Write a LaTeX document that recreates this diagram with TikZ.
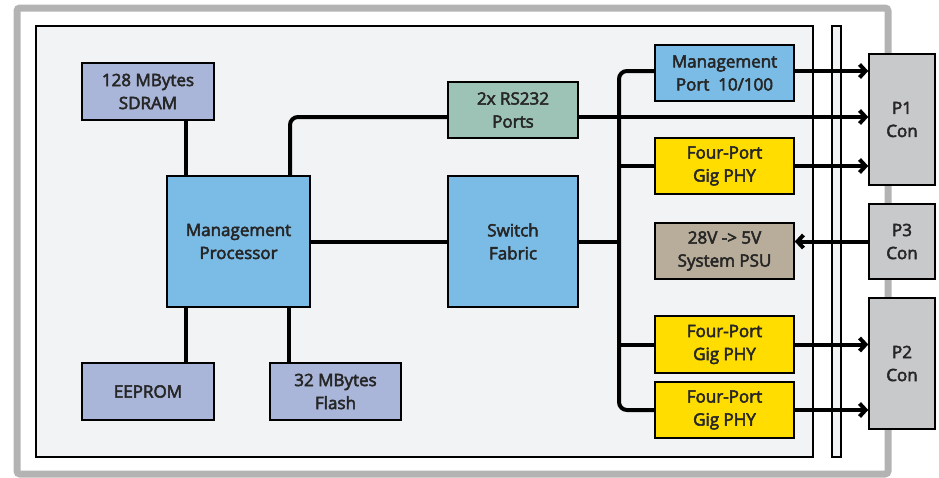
\documentclass[tikz,border=0pt]{standalone}
\usepackage{fontspec}
\setmainfont{Open Sans}[FakeBold=3]
\usetikzlibrary{arrows.meta}
\definecolor{frameg}{HTML}{B3B3B3}
\definecolor{panel}{HTML}{F2F3F5}
\definecolor{bluebox}{HTML}{7BBCE6}
\definecolor{memb}{HTML}{A9B5D9}
\definecolor{rsg}{HTML}{9CC3B6}
\definecolor{yel}{HTML}{FFDD00}
\definecolor{psuc}{HTML}{B8AC9A}
\definecolor{conc}{HTML}{C8C9CB}
\definecolor{txt}{HTML}{262626}
\begin{document}
\begin{tikzpicture}[x=1pt,y=-1pt,
  box/.style={draw=black, line width=1.5pt, align=center, text=txt,
    font=\fontsize{17}{23}\selectfont, inner sep=0pt},
  conn/.style={line width=4pt},
  arr/.style={conn, -{Straight Barb[length=6pt,width=13pt]}}]
\useasboundingbox (0,0) rectangle (939,477);
\draw[line width=7pt, draw=frameg, rounded corners=3pt] (17,8) rectangle (888,474);
\draw[fill=panel, line width=1.5pt] (36,26) rectangle (813,457);
\draw[fill=panel, line width=1.2pt] (832,26) rectangle (841,457);
% boxes
\node[box, fill=memb, minimum width=132pt, minimum height=57pt] (sdram) at (148,91.5) {128 MBytes\\SDRAM};
\node[box, fill=bluebox, minimum width=143pt, minimum height=131pt] (proc) at (238.5,241.5) {Management\\Processor};
\node[box, fill=rsg, minimum width=130pt, minimum height=56pt] (rs) at (513,110) {2x RS232\\Ports};
\node[box, fill=bluebox, minimum width=130pt, minimum height=131pt] (sw) at (513,241.5) {Switch\\Fabric};
\node[box, fill=bluebox, minimum width=139pt, minimum height=56pt] (mp) at (724.5,73) {Management\\Port\ \ 10/100};
\node[box, fill=yel, minimum width=139pt, minimum height=56pt] (phya) at (724.5,166) {Four-Port\\Gig PHY};
\node[box, fill=psuc, minimum width=139pt, minimum height=56pt] (psu) at (724.5,251) {28V -> 5V\\System PSU};
\node[box, fill=yel, minimum width=139pt, minimum height=57pt] (phyb) at (724.5,344.5) {Four-Port\\Gig PHY};
\node[box, fill=yel, minimum width=139pt, minimum height=56pt] (phyc) at (724.5,410) {Four-Port\\Gig PHY};
\node[box, fill=memb, minimum width=132pt, minimum height=57pt] (eeprom) at (148,391.5) {EEPROM};
\node[box, fill=memb, minimum width=131pt, minimum height=57pt] (flash) at (335.5,391.5) {32 MBytes\\Flash};
\node[box, fill=conc, minimum width=66pt, minimum height=131pt] (pa) at (902,119.5) {P1\\Con};
\node[box, fill=conc, minimum width=66pt, minimum height=75pt] (pc) at (902,241.5) {P3\\Con};
\node[box, fill=conc, minimum width=66pt, minimum height=131pt] (pb) at (902,363.5) {P2\\Con};
\coordinate (bj) at (619,241.5);
% connectors
\draw[conn] ([xshift=38pt]sdram.south) -- ([xshift=38pt]sdram.south |- proc.north);
\draw[conn] ([xshift=38pt]eeprom.north) -- ([xshift=38pt]eeprom.north |- proc.south);
\draw[conn] ([xshift=-46.5pt]flash.north) -- ([xshift=-46.5pt]flash.north |- proc.south);
\draw[conn, rounded corners=8pt] ([xshift=51.5pt]proc.north) |- ([yshift=-7pt]rs.west);
\draw[conn] (proc.east) -- (sw.west);
\draw[conn] (sw.east) -- (bj);
\draw[conn, rounded corners=8pt] ([yshift=2pt]mp.west) -| (bj) |- (phyc.west);
\draw[conn] (phya.west) -- (phya.west -| bj);
\draw[conn] (phyb.west) -- (phyb.west -| bj);
\draw[arr] ([yshift=2pt]mp.east) -- ([yshift=2pt]mp.east -| pa.west);
\draw[arr] ([yshift=-7pt]rs.east) -- ([yshift=-7pt]rs.east -| pa.west);
\draw[arr] (phya.east) -- (phya.east -| pa.west);
\draw[arr] (pc.west) -- (pc.west -| psu.east);
\draw[arr] (phyb.east) -- (phyb.east -| pb.west);
\draw[arr] (phyc.east) -- (phyc.east -| pb.west);
\end{tikzpicture}
\end{document}
